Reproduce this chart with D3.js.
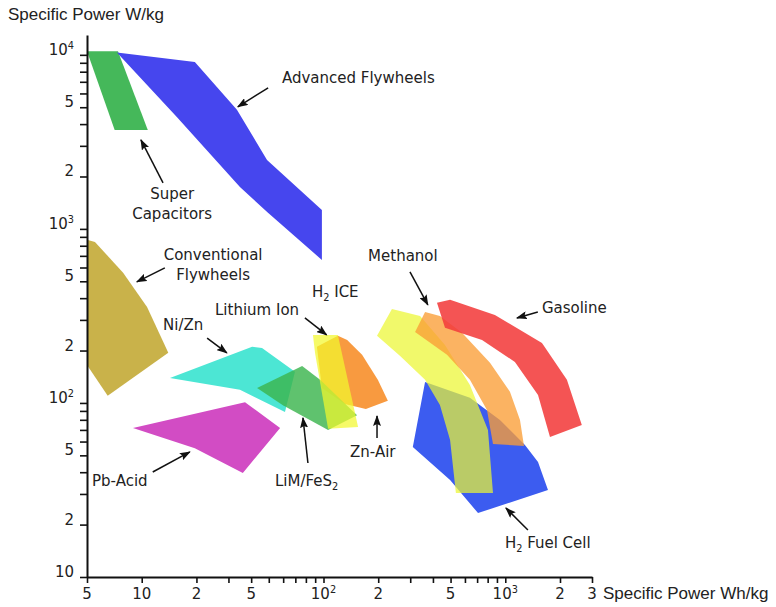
<!DOCTYPE html>
<html>
<head>
<meta charset="utf-8">
<title>Specific power vs specific energy</title>
<script src="https://d3js.org/d3.v7.min.js"></script>
<style>
  body { margin: 0; background: #fff; }
  text { font-family: "DejaVu Sans", Verdana, sans-serif; fill: #222; }
  .axis-title { font-family: "Liberation Sans", Arial, sans-serif; font-size: 17px; }
</style>
</head>
<body>
<div id="chart"></div>
<script>
// every region is a list of corners: [Wh/kg, W/kg]
var superCapacitors = [[5, 10500], [7.4, 10500], [10.8, 3700], [7.1, 3700]];
var advancedFlywheels = [[7.3, 10300], [19.6, 9100], [33.4, 4830], [48.9, 2490], [98, 1285],
  [98, 663], [49.5, 1236], [34.7, 1743], [15.6, 4400]];
var conventionalFlywheels = [[5, 865], [5.53, 842], [7.9, 559], [10.7, 356], [14, 194], [6.5, 110], [5, 165]];
var pbAcid = [[8.95, 71.8], [37, 101], [57.7, 71.8], [36, 39.6], [19.6, 55]];
var niZn = [[14.3, 139], [40.5, 210], [45.9, 207], [69.7, 151], [61.4, 88.7], [34.7, 119]];
var znAir = [[92, 210], [120, 243], [135, 230], [163, 189], [199, 136], [226, 103], [171, 92.3], [131, 98.7], [98, 122]];
var limFeS2 = [[43.1, 122], [76.3, 163], [95.8, 136], [153, 85], [106, 70], [59.8, 97]];
var lithiumIon = [[87.5, 246], [120, 246], [155, 72.8], [106, 71], [89.8, 194]];
var h2FuelCell = [[362, 132], [639, 107], [935, 79.8], [1283, 57.4], [1514, 45.8], [1718, 31.6],
  [708, 23.3], [497, 36.1], [310, 55.9]];
var h2Ice = [[197, 243], [238, 347], [340, 316], [466, 215], [639, 127], [803, 70], [856, 30.4],
  [535, 30.4], [497, 61.3], [437, 97.3], [362, 136], [264, 186]];
var methanol = [[319, 256], [362, 333], [437, 316], [578, 253], [824, 170], [1061, 116], [1205, 79.8],
  [1268, 56.6], [856, 58.1], [793, 91.2], [639, 136], [478, 189]];
var gasoline = [[421, 376], [497, 391], [877, 320], [1592, 221], [2183, 136], [2637, 74.8],
  [1762, 63.8], [1514, 111], [1130, 172], [745, 230], [466, 270]];

// drawing order, bottom first
var regions = [
  { name: "Super Capacitors", pts: superCapacitors },
  { name: "Advanced Flywheels", pts: advancedFlywheels },
  { name: "Conventional Flywheels", pts: conventionalFlywheels },
  { name: "Pb-Acid", pts: pbAcid },
  { name: "Ni/Zn", pts: niZn },
  { name: "Zn-Air", pts: znAir },
  { name: "LiM/FeS2", pts: limFeS2 },
  { name: "Lithium Ion", pts: lithiumIon },
  { name: "H2 Fuel Cell", pts: h2FuelCell },
  { name: "H2 ICE", pts: h2Ice },
  { name: "Methanol", pts: methanol },
  { name: "Gasoline", pts: gasoline }
];

var regionStyle = {
  "Super Capacitors": ["#45b85a", 1],
  "Advanced Flywheels": ["#4646ee", 1],
  "Conventional Flywheels": ["#c9b24a", 1],
  "Pb-Acid": ["#d24cc4", 1],
  "Ni/Zn": ["#4ce6d4", 1],
  "Zn-Air": ["#f89a40", 1],
  "LiM/FeS2": ["#3cb44e", 0.82],
  "Lithium Ion": ["#f2f82c", 0.72],
  "H2 Fuel Cell": ["#3c5cf0", 1],
  "H2 ICE": ["#ecf632", 0.72],
  "Methanol": ["#fa9e36", 0.78],
  "Gasoline": ["#f23c3c", 0.88]
};

// labels: text ("|" new line, "_" subscript), anchor point in data units
var labels = [
  { text: "Advanced Flywheels", at: [59.1, 6900], anchor: "start" },
  { text: "Super|Capacitors", at: [14.7, 1487], anchor: "middle" },
  { text: "Conventional|Flywheels", at: [24.7, 663], anchor: "middle" },
  { text: "Ni/Zn", at: [13.1, 263], anchor: "start" },
  { text: "Lithium Ion", at: [25.3, 320], anchor: "start" },
  { text: "H_2 ICE", at: [86.4, 407], anchor: "start" },
  { text: "Methanol", at: [176, 655], anchor: "start" },
  { text: "Gasoline", at: [1590, 329], anchor: "start" },
  { text: "Pb-Acid", at: [5.33, 33.3], anchor: "start" },
  { text: "LiM/FeS_2", at: [54.1, 33.3], anchor: "start" },
  { text: "Zn-Air", at: [140, 48.9], anchor: "start" },
  { text: "H_2 Fuel Cell", at: [995, 14.7], anchor: "start" }
];

// arrows: from, to (head) in data units
var arrows = [
  [[49.6, 6460], [33.8, 5030]],
  [[13.1, 1837], [9.9, 3245]],
  [[13.4, 597], [9.4, 496]],
  [[22.9, 236], [29.4, 194]],
  [[79, 308], [104, 246]],
  [[299, 566], [375, 366]],
  [[1510, 333], [1159, 308]],
  [[11.5, 40.1], [18.4, 52.3]],
  [[82.1, 45.2], [77.1, 82]],
  [[197, 62.9], [197, 84.2]],
  [[1332, 18.6], [1008, 24.9]]
];

var xTicks = [5, 10, 20, 30, 40, 50, 60, 70, 80, 90, 100, 200, 300, 400, 500, 600, 700, 800, 900, 1000, 2000, 3000];
var xTickLabels = [[5, "5"], [10, "10"], [20, "2"], [40, "5"], [100, "10^2"], [200, "2"], [500, "5"],
  [1000, "10^3"], [2000, "2"], [3000, "3"]];
var yTicks = [10, 20, 30, 40, 50, 60, 70, 80, 90, 100, 200, 300, 400, 500, 600, 700, 800, 900,
  1000, 2000, 3000, 4000, 5000, 6000, 7000, 8000, 9000, 10000];
var yTickLabels = [[10, "10"], [20, "2"], [50, "5"], [100, "10^2"], [200, "2"], [500, "5"],
  [1000, "10^3"], [2000, "2"], [5000, "5"], [10000, "10^4"]];

var width = 776, height = 607;

var x = d3.scaleLog().domain([5, 3000]).range([87, 592]);
var y = d3.scaleLog().domain([10, 13000]).range([577, 35]);

var svg = d3.select("#chart")
  .append("svg")
  .attr("width", width)
  .attr("height", height);

svg.append("defs").append("marker")
  .attr("id", "head")
  .attr("markerUnits", "userSpaceOnUse")
  .attr("markerWidth", 12)
  .attr("markerHeight", 8)
  .attr("refX", 10)
  .attr("refY", 4)
  .attr("orient", "auto")
  .append("path")
  .attr("d", "M0,0L11,4L0,8L2,4Z")
  .attr("fill", "#111");

// small super/subscripts: "^3" goes up, "_2" goes down
function richText(t, s) {
  var shift = 0;
  s.split(/([\^_]\d)/).forEach(function (p) {
    if (!p) return;
    var target = 0, txt = p, small = false;
    if (p[0] === "^") { target = -6; txt = p.slice(1); small = true; }
    else if (p[0] === "_") { target = 4; txt = p.slice(1); small = true; }
    var ts = t.append("tspan").attr("dy", target - shift).text(txt);
    if (small) ts.attr("font-size", "0.65em");
    shift = target;
  });
}

var line = d3.line()
  .x(function (d) { return x(d[0]); })
  .y(function (d) { return y(d[1]); })
  .curve(d3.curveLinearClosed);

svg.append("g")
  .selectAll("path")
  .data(regions)
  .enter()
  .append("path")
  .attr("d", function (d) { return line(d.pts); })
  .attr("fill", function (d) { return regionStyle[d.name][0]; })
  .attr("fill-opacity", function (d) { return regionStyle[d.name][1]; });

// axes
var yAxis = svg.append("g")
  .attr("transform", "translate(" + x(5) + ",0)")
  .call(d3.axisLeft(y).tickValues(yTicks).tickSize(7).tickSizeOuter(0).tickFormat(""));
var xAxis = svg.append("g")
  .attr("transform", "translate(0," + y(10) + ")")
  .call(d3.axisBottom(x).tickValues(xTicks).tickSize(6).tickSizeOuter(0).tickFormat(""));
svg.selectAll(".domain").attr("stroke", "#111").attr("stroke-width", 2);
svg.selectAll(".tick line").attr("stroke", "#111").attr("stroke-width", 1.6);

svg.append("g")
  .selectAll("text")
  .data(yTickLabels)
  .enter()
  .append("text")
  .attr("x", x(5) - 13)
  .attr("y", function (d) { return y(d[0]); })
  .attr("dy", "0.35em")
  .attr("text-anchor", "end")
  .attr("font-size", 15)
  .each(function (d) {
    var t = d3.select(this).append("tspan").attr("dy", 0);
    richText(t, d[1]);
  });

svg.append("g")
  .selectAll("text")
  .data(xTickLabels)
  .enter()
  .append("text")
  .attr("x", function (d) { return x(d[0]); })
  .attr("y", y(10) + 22)
  .attr("text-anchor", "middle")
  .attr("font-size", 15)
  .each(function (d) { richText(d3.select(this), d[1]); });

svg.append("text")
  .attr("class", "axis-title")
  .attr("x", 8)
  .attr("y", 20)
  .text("Specific Power W/kg");

svg.append("text")
  .attr("class", "axis-title")
  .attr("x", 603)
  .attr("y", y(10) + 22)
  .text("Specific Power Wh/kg");

// annotations
svg.append("g")
  .selectAll("line")
  .data(arrows)
  .enter()
  .append("line")
  .attr("x1", function (d) { return x(d[0][0]); })
  .attr("y1", function (d) { return y(d[0][1]); })
  .attr("x2", function (d) { return x(d[1][0]); })
  .attr("y2", function (d) { return y(d[1][1]); })
  .attr("stroke", "#111")
  .attr("stroke-width", 1.5)
  .attr("marker-end", "url(#head)");

var lab = svg.append("g");
labels.forEach(function (d) {
  d.text.split("|").forEach(function (row, i) {
    var t = lab.append("text")
      .attr("x", x(d.at[0]))
      .attr("y", y(d.at[1]) + i * 20)
      .attr("text-anchor", d.anchor)
      .attr("font-size", 15);
    richText(t, row);
  });
});
</script>
</body>
</html>
